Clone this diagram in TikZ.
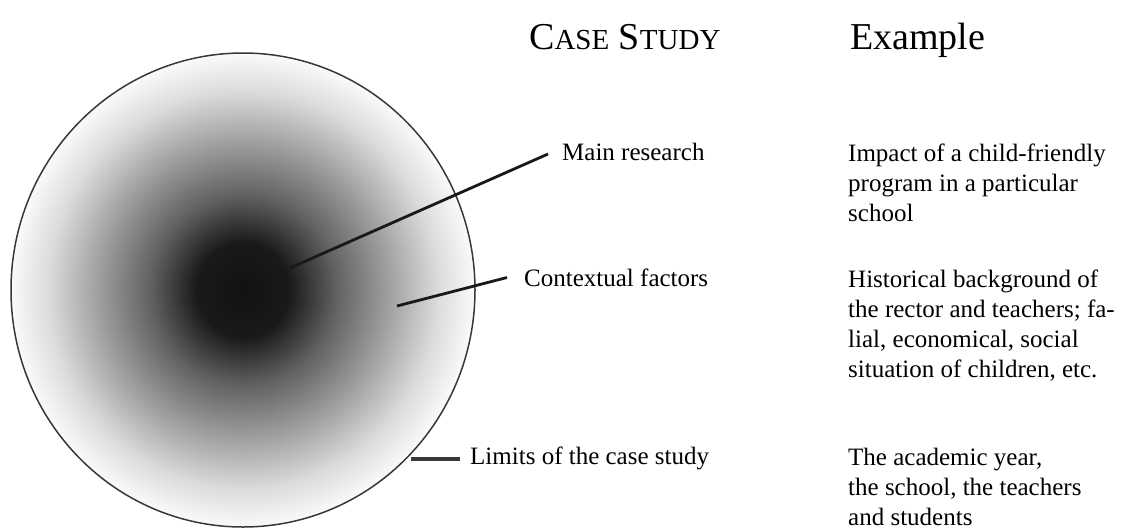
\documentclass[tikz,border=0pt]{standalone}
\usepackage{fontspec}
\setmainfont{Liberation Serif}
\pgfdeclareradialshading{caseshade}{\pgfpoint{0bp}{0bp}}{%
  color(0bp)=(black!93);
  color(5bp)=(black!90);
  color(10bp)=(black!62);
  color(16bp)=(black!36);
  color(21bp)=(black!14);
  color(25bp)=(black!2);
  color(50bp)=(white)}
\tikzset{
  headtext/.style={anchor=base west, inner sep=0pt, font=\fontsize{38}{38}\selectfont},
  labeltext/.style={anchor=base west, inner sep=0pt, font=\fontsize{25}{30}\selectfont},
  bodytext/.style={anchor=north west, inner sep=0pt, align=left, font=\fontsize{25}{30}\selectfont},
  pointer/.style={line width=2.8pt, black!90},
  limitline/.style={line width=4pt, black!78}
}
\begin{document}
\begin{tikzpicture}[x=1pt,y=-1pt]
\useasboundingbox (0,0) rectangle (1125,530);
% circle
\shade[shading=caseshade] (243,290) ellipse [x radius=232, y radius=237];
\draw[line width=1.5pt, black!78] (243,290) ellipse [x radius=232, y radius=237];
% headings
\node[headtext] (hcase) at (529,49) {C{\fontsize{29}{29}\selectfont ASE} S{\fontsize{29}{29}\selectfont TUDY}};
\node[headtext] (hex) at (850,49) {Example};
% labels
\node[labeltext] (mr) at (562,160.5) {Main research};
\node[labeltext] (cf) at (524,286.5) {Contextual factors};
\node[labeltext] (lim) at (470,464.5) {Limits of the case study};
% examples
\node[bodytext] (ex1) at (848,143.5) {Impact of a child-friendly\\program in a particular\\school};
\node[bodytext] (ex2) at (848,269.5) {Historical background of\\the rector and teachers; fa-\\lial, economical, social\\situation of children, etc.};
\node[bodytext] (ex3) at (848,447.5) {The academic year,\\the school, the teachers\\and students};
% pointers
\coordinate (mrin) at (290,268);
\coordinate (cfin) at (397,306);
\coordinate (limin) at (411,459);
\draw[pointer] (mrin) -- ([xshift=-14pt,yshift=6.5pt]mr.base west);
\draw[pointer] (cfin) -- ([xshift=-17pt,yshift=9pt]cf.base west);
\draw[limitline] (limin) -- ([xshift=-10pt,yshift=5.5pt]lim.base west);
\end{tikzpicture}
\end{document}
